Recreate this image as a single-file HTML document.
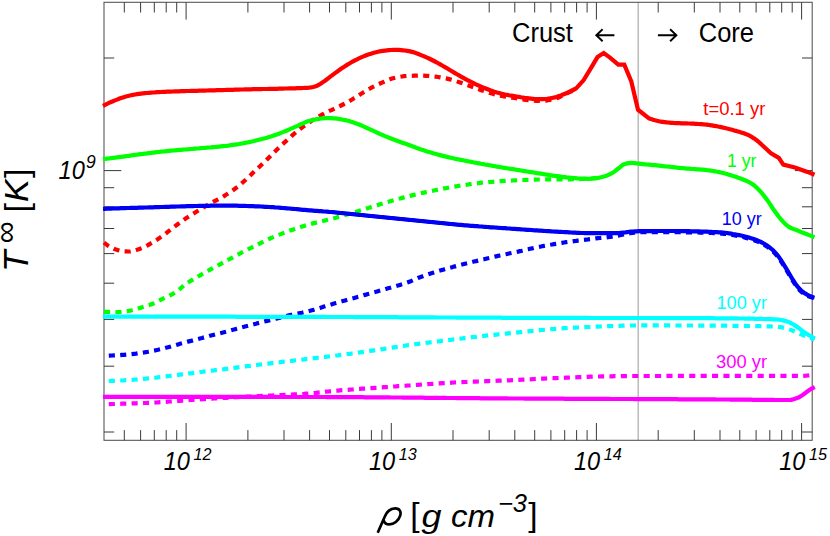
<!DOCTYPE html>
<html><head><meta charset="utf-8"><title>Cooling curves</title>
<style>html,body{margin:0;padding:0;background:#fff;width:830px;height:536px;overflow:hidden;font-family:"Liberation Sans",sans-serif}</style>
</head><body>
<svg width="830" height="536" viewBox="0 0 830 536" style="display:block;position:absolute;left:0;top:0">
<rect x="0" y="0" width="830" height="536" fill="#fff"/>
<line x1="638.2" y1="2.3" x2="638.2" y2="440.3" stroke="#b0b0b0" stroke-width="1.3"/>
<rect x="104.0" y="2.3" width="708.2" height="438.0" fill="none" stroke="#505050" stroke-width="1.05"/>
<path d="M124.3 440.3v-10.2M124.3 2.3v10.2M140.6 440.3v-10.2M140.6 2.3v10.2M154.3 440.3v-10.2M154.3 2.3v10.2M166.2 440.3v-10.2M166.2 2.3v10.2M176.7 440.3v-10.2M176.7 2.3v10.2M186.1 440.3v-17.3M186.1 2.3v17.3M247.9 440.3v-10.2M247.9 2.3v10.2M284.0 440.3v-10.2M284.0 2.3v10.2M309.6 440.3v-10.2M309.6 2.3v10.2M329.5 440.3v-10.2M329.5 2.3v10.2M345.8 440.3v-10.2M345.8 2.3v10.2M359.5 440.3v-10.2M359.5 2.3v10.2M371.4 440.3v-10.2M371.4 2.3v10.2M381.9 440.3v-10.2M381.9 2.3v10.2M391.3 440.3v-17.3M391.3 2.3v17.3M453.0 440.3v-10.2M453.0 2.3v10.2M489.2 440.3v-10.2M489.2 2.3v10.2M514.8 440.3v-10.2M514.8 2.3v10.2M534.7 440.3v-10.2M534.7 2.3v10.2M550.9 440.3v-10.2M550.9 2.3v10.2M564.7 440.3v-10.2M564.7 2.3v10.2M576.6 440.3v-10.2M576.6 2.3v10.2M587.1 440.3v-10.2M587.1 2.3v10.2M596.4 440.3v-17.3M596.4 2.3v17.3M658.2 440.3v-10.2M658.2 2.3v10.2M694.3 440.3v-10.2M694.3 2.3v10.2M720.0 440.3v-10.2M720.0 2.3v10.2M739.8 440.3v-10.2M739.8 2.3v10.2M756.1 440.3v-10.2M756.1 2.3v10.2M769.8 440.3v-10.2M769.8 2.3v10.2M781.7 440.3v-10.2M781.7 2.3v10.2M792.2 440.3v-10.2M792.2 2.3v10.2M801.6 440.3v-17.3M801.6 2.3v17.3M104.0 432.0h10.2M812.2 432.0h-10.2M104.0 366.2h10.2M812.2 366.2h-10.2M104.0 319.4h10.2M812.2 319.4h-10.2M104.0 283.2h10.2M812.2 283.2h-10.2M104.0 253.6h10.2M812.2 253.6h-10.2M104.0 228.5h10.2M812.2 228.5h-10.2M104.0 206.8h10.2M812.2 206.8h-10.2M104.0 187.7h10.2M812.2 187.7h-10.2M104.0 170.6h17.3M812.2 170.6h-17.3M104.0 58.0h10.2M812.2 58.0h-10.2" stroke="#3a3a3a" stroke-width="1" fill="none"/>
<g><path d="M104.0 242.6L106.0 244.2L108.0 245.7L110.0 246.9L112.0 247.9L114.0 248.8L116.0 249.6L118.0 250.2L120.0 250.8L122.0 251.2L124.0 251.3L126.0 251.4L128.0 251.5L130.0 251.5L132.0 251.1L134.0 250.7L136.0 250.1L138.0 249.5L140.0 248.8L142.0 248.0L144.0 247.1L146.0 246.1L148.0 245.1L150.0 243.9L152.0 242.8L154.0 241.6L156.0 240.3L158.0 239.0L160.0 237.6L162.0 236.2L164.0 234.8L166.0 233.3L168.0 231.7L170.0 230.1L172.0 228.5L174.0 227.0L176.0 225.5L178.0 224.0L180.0 222.5L182.0 221.1L184.0 219.7L186.0 218.3L188.0 217.0L190.0 215.7L192.0 214.4L194.0 213.2L196.0 212.0L198.0 210.8L200.0 209.6L202.0 208.4L204.0 207.1L206.0 205.9L208.0 204.7L210.0 203.5L212.0 202.4L214.0 201.4L216.0 200.5L218.0 199.5L220.0 198.4L222.0 197.3L224.0 196.1L226.0 194.8L228.0 193.6L230.0 192.2L232.0 190.9L234.0 189.5L236.0 188.0L238.0 186.5L240.0 184.9L242.0 183.1L244.0 181.3L246.0 179.5L248.0 177.6L250.0 175.7L252.0 173.7L254.0 171.8L256.0 169.9L258.0 168.0L260.0 166.2L262.0 164.3L264.0 162.4L266.0 160.4L268.0 158.4L270.0 156.4L272.0 154.4L274.0 152.4L276.0 150.5L278.0 148.5L280.0 146.6L282.0 144.7L284.0 142.9L286.0 141.1L288.0 139.3L290.0 137.5L292.0 135.6L294.0 133.9L296.0 132.2L298.0 130.5L300.0 129.0L302.0 127.5L304.0 126.1L306.0 124.7L308.0 123.3L310.0 121.9L312.0 120.6L314.0 119.3L316.0 118.1L318.0 116.9L320.0 115.8L322.0 114.7L324.0 113.7L326.0 112.6L328.0 111.7L330.0 110.7L332.0 109.8L334.0 108.8L336.0 107.8L338.0 106.9L340.0 106.0L342.0 105.0L344.0 104.0L346.0 103.0L348.0 101.9L350.0 100.7L352.0 99.5L354.0 98.2L356.0 97.0L358.0 95.8L360.0 94.5L362.0 93.3L364.0 92.0L366.0 90.8L368.0 89.6L370.0 88.5L372.0 87.4L374.0 86.4L376.0 85.4L378.0 84.4L380.0 83.5L382.0 82.6L384.0 81.8L386.0 80.9L388.0 80.1L390.0 79.3L392.0 78.6L394.0 78.0L396.0 77.5L398.0 77.2L400.0 76.8L402.0 76.5L404.0 76.2L406.0 76.0L408.0 75.9L410.0 75.8L412.0 75.8L414.0 75.7L416.0 75.7L418.0 75.6L420.0 75.6L422.0 75.6L424.0 75.7L426.0 75.8L428.0 75.9L430.0 76.1L432.0 76.3L434.0 76.5L436.0 76.7L438.0 77.0L440.0 77.3L442.0 77.7L444.0 78.0L446.0 78.4L448.0 78.9L450.0 79.4L452.0 79.9L454.0 80.5L456.0 81.1L458.0 81.8L460.0 82.4L462.0 83.1L464.0 83.8L466.0 84.6L468.0 85.3L470.0 86.1L472.0 86.8L474.0 87.5L476.0 88.3L478.0 89.0L480.0 89.7L482.0 90.4L484.0 91.1L486.0 91.8L488.0 92.4L490.0 93.0L492.0 93.6L494.0 94.2L496.0 94.7L498.0 95.2L500.0 95.6L502.0 96.0L504.0 96.4L506.0 96.8L508.0 97.1L510.0 97.4L512.0 97.7L514.0 97.9L516.0 98.2L518.0 98.5L520.0 98.9L522.0 99.2L524.0 99.6L526.0 99.9L528.0 100.2L530.0 100.3L532.0 100.5L534.0 100.6L536.0 100.8L538.0 100.8L540.0 100.9L542.0 100.9L544.0 100.8L546.0 100.6L548.0 100.3L550.0 99.9L552.0 99.5L554.0 99.1L556.0 98.5L558.0 97.7L560.0 96.8L562.0 95.8L564.0 94.8L566.0 93.8L568.0 92.9L570.0 91.9L572.0 91.0L574.0 89.9L576.0 88.9L576.2 88.8" fill="none" stroke="#ff0000" stroke-width="4.2" stroke-linejoin="miter" stroke-dasharray="6.1 5.3" stroke-dashoffset="0"/>
<path d="M103.0 105.8L105.0 104.8L107.0 103.8L109.0 102.9L111.0 102.0L113.0 101.2L115.0 100.4L117.0 99.6L119.0 98.8L121.0 98.1L123.0 97.4L125.0 96.8L127.0 96.3L129.0 95.8L131.0 95.3L133.0 94.9L135.0 94.5L137.0 94.2L139.0 93.9L141.0 93.6L143.0 93.4L145.0 93.2L147.0 93.0L149.0 92.8L151.0 92.6L153.0 92.5L155.0 92.4L157.0 92.2L159.0 92.1L161.0 92.0L163.0 91.9L165.0 91.8L167.0 91.7L169.0 91.6L171.0 91.6L173.0 91.5L175.0 91.4L177.0 91.3L179.0 91.3L181.0 91.2L183.0 91.1L185.0 91.1L187.0 91.0L189.0 91.0L191.0 90.9L193.0 90.9L195.0 90.8L197.0 90.8L199.0 90.7L201.0 90.7L203.0 90.6L205.0 90.6L207.0 90.5L209.0 90.4L211.0 90.4L213.0 90.3L215.0 90.3L217.0 90.2L219.0 90.2L221.0 90.1L223.0 90.1L225.0 90.0L227.0 89.9L229.0 89.9L231.0 89.8L233.0 89.8L235.0 89.7L237.0 89.7L239.0 89.6L241.0 89.5L243.0 89.5L245.0 89.4L247.0 89.4L249.0 89.3L251.0 89.3L253.0 89.2L255.0 89.2L257.0 89.2L259.0 89.1L261.0 89.1L263.0 89.0L265.0 89.0L267.0 89.0L269.0 88.9L271.0 88.9L273.0 88.8L275.0 88.8L277.0 88.8L279.0 88.7L281.0 88.7L283.0 88.6L285.0 88.5L287.0 88.5L289.0 88.4L291.0 88.4L293.0 88.3L295.0 88.3L297.0 88.2L299.0 88.1L301.0 88.1L303.0 88.0L305.0 87.9L307.0 87.9L309.0 87.7L311.0 87.4L313.0 87.0L315.0 86.5L317.0 85.8L319.0 84.7L321.0 83.4L323.0 82.1L325.0 80.7L327.0 79.2L329.0 77.7L331.0 76.1L333.0 74.6L335.0 73.1L337.0 71.7L339.0 70.3L341.0 68.8L343.0 67.5L345.0 66.2L347.0 64.9L349.0 63.7L351.0 62.5L353.0 61.4L355.0 60.3L357.0 59.3L359.0 58.3L361.0 57.4L363.0 56.6L365.0 55.8L367.0 55.0L369.0 54.3L371.0 53.7L373.0 53.1L375.0 52.5L377.0 52.0L379.0 51.5L381.0 51.1L383.0 50.8L385.0 50.6L387.0 50.4L389.0 50.2L391.0 50.0L393.0 49.9L395.0 49.8L397.0 49.8L399.0 49.9L401.0 50.1L403.0 50.3L405.0 50.5L407.0 50.8L409.0 51.1L411.0 51.6L413.0 52.1L415.0 52.8L417.0 53.5L419.0 54.3L421.0 55.1L423.0 55.9L425.0 56.7L427.0 57.6L429.0 58.5L431.0 59.5L433.0 60.5L435.0 61.5L437.0 62.5L439.0 63.7L441.0 64.8L443.0 66.0L445.0 67.1L447.0 68.3L449.0 69.5L451.0 70.7L453.0 71.9L455.0 73.1L457.0 74.3L459.0 75.4L461.0 76.6L463.0 77.7L465.0 78.8L467.0 79.9L469.0 80.9L471.0 81.9L473.0 82.9L475.0 83.9L477.0 84.8L479.0 85.7L481.0 86.6L483.0 87.4L485.0 88.2L487.0 89.0L489.0 89.8L491.0 90.6L493.0 91.3L495.0 91.9L497.0 92.5L499.0 93.0L501.0 93.6L503.0 94.0L505.0 94.5L507.0 94.9L509.0 95.3L511.0 95.6L513.0 95.9L515.0 96.2L517.0 96.6L519.0 96.9L521.0 97.3L523.0 97.6L525.0 98.0L527.0 98.2L529.0 98.4L531.0 98.6L533.0 98.8L535.0 99.0L537.0 99.1L539.0 99.2L541.0 99.2L543.0 99.1L545.0 99.0L547.0 98.8L549.0 98.5L551.0 98.2L553.0 97.8L555.0 97.4L557.0 96.8L559.0 96.1L561.0 95.4L563.0 94.5L565.0 93.7L567.0 92.8L569.0 91.9L571.0 91.0L573.0 90.0L575.0 89.0L576.2 88.4L583.7 80.1L591.2 67.6L597.5 57.1L603.7 53.1L610.0 57.6L618.3 64.6L624.3 64.6L631.3 81.4L638.0 109.7L649.0 118.3L650.0 118.7L651.0 119.0L652.0 119.3L653.0 119.7L654.0 120.0L655.0 120.3L656.0 120.5L657.0 120.8L658.0 121.0L659.0 121.3L660.0 121.5L661.0 121.6L662.0 121.8L663.0 121.9L664.0 122.1L665.0 122.2L666.0 122.3L667.0 122.4L668.0 122.5L669.0 122.6L670.0 122.7L671.0 122.8L672.0 122.9L673.0 122.9L674.0 123.0L675.0 123.1L676.0 123.1L677.0 123.1L678.0 123.2L679.0 123.2L680.0 123.2L681.0 123.3L682.0 123.3L683.0 123.3L684.0 123.4L685.0 123.4L686.0 123.4L687.0 123.4L688.0 123.5L689.0 123.5L690.0 123.5L691.0 123.6L692.0 123.6L693.0 123.7L694.0 123.7L695.0 123.8L696.0 123.8L697.0 123.9L698.0 124.0L699.0 124.0L700.0 124.1L701.0 124.2L702.0 124.2L703.0 124.3L704.0 124.4L705.0 124.5L706.0 124.6L707.0 124.7L708.0 124.8L709.0 125.0L710.0 125.1L711.0 125.3L712.0 125.4L713.0 125.6L714.0 125.8L715.0 125.9L716.0 126.1L717.0 126.3L718.0 126.5L719.0 126.7L720.0 126.9L721.0 127.1L722.0 127.3L723.0 127.6L724.0 127.8L725.0 128.0L726.0 128.3L727.0 128.5L728.0 128.8L729.0 129.0L730.0 129.3L731.0 129.5L732.0 129.8L733.0 130.1L734.0 130.4L735.0 130.7L736.0 130.9L737.0 131.2L738.0 131.5L739.0 131.8L740.0 132.1L741.0 132.4L742.0 132.7L743.0 133.0L744.0 133.3L745.0 133.7L746.0 134.1L747.0 134.5L748.0 134.9L749.0 135.4L750.0 135.9L751.0 136.5L752.0 137.1L753.0 137.7L754.0 138.4L755.0 139.0L756.0 139.8L757.0 140.5L758.0 141.3L759.0 142.2L760.0 143.1L761.0 144.0L762.0 145.0L762.3 145.3L771.0 153.2L778.8 157.9L783.3 164.6L794.9 167.4L807.5 171.9L814.5 174.8" fill="none" stroke="#ff0000" stroke-width="4.2" stroke-linejoin="miter"/>
<path d="M104.0 311.6L106.0 311.8L108.0 311.9L110.0 312.0L112.0 312.0L114.0 312.1L116.0 312.1L118.0 312.1L120.0 312.0L122.0 311.8L124.0 311.6L126.0 311.3L128.0 311.0L130.0 310.6L132.0 310.2L134.0 309.7L136.0 309.1L138.0 308.5L140.0 307.9L142.0 307.3L144.0 306.7L146.0 306.1L148.0 305.4L150.0 304.8L152.0 304.0L154.0 303.2L156.0 302.3L158.0 301.2L160.0 300.2L162.0 299.2L164.0 298.2L166.0 297.2L168.0 296.3L170.0 295.3L172.0 294.3L174.0 293.2L176.0 292.0L178.0 290.5L180.0 288.8L182.0 287.0L184.0 285.4L186.0 283.9L188.0 282.6L190.0 281.3L192.0 280.1L194.0 278.9L196.0 277.7L198.0 276.5L200.0 275.4L202.0 274.2L204.0 273.1L206.0 271.9L208.0 270.8L210.0 269.7L212.0 268.6L214.0 267.5L216.0 266.4L218.0 265.3L220.0 264.3L222.0 263.2L224.0 262.1L226.0 261.0L228.0 259.9L230.0 258.9L232.0 257.8L234.0 256.7L236.0 255.6L238.0 254.5L240.0 253.5L242.0 252.4L244.0 251.4L246.0 250.3L248.0 249.3L250.0 248.3L252.0 247.3L254.0 246.3L256.0 245.3L258.0 244.3L260.0 243.3L262.0 242.3L264.0 241.3L266.0 240.4L268.0 239.4L270.0 238.5L272.0 237.6L274.0 236.8L276.0 236.0L278.0 235.1L280.0 234.4L282.0 233.6L284.0 232.8L286.0 232.0L288.0 231.3L290.0 230.6L292.0 229.9L294.0 229.2L296.0 228.5L298.0 227.8L300.0 227.2L302.0 226.5L304.0 225.9L306.0 225.3L308.0 224.7L310.0 224.1L312.0 223.6L314.0 223.1L316.0 222.6L318.0 222.1L320.0 221.6L322.0 221.2L324.0 220.7L326.0 220.2L328.0 219.8L330.0 219.3L332.0 218.8L334.0 218.2L336.0 217.7L338.0 217.1L340.0 216.6L342.0 216.0L344.0 215.4L346.0 214.8L348.0 214.2L350.0 213.6L352.0 213.0L354.0 212.4L356.0 211.8L358.0 211.2L360.0 210.6L362.0 210.0L364.0 209.4L366.0 208.7L368.0 208.1L370.0 207.4L372.0 206.8L374.0 206.2L376.0 205.5L378.0 204.9L380.0 204.3L382.0 203.7L384.0 203.1L386.0 202.5L388.0 201.9L390.0 201.3L392.0 200.7L394.0 200.2L396.0 199.6L398.0 199.0L400.0 198.5L402.0 197.9L404.0 197.4L406.0 196.9L408.0 196.4L410.0 195.9L412.0 195.4L414.0 194.9L416.0 194.4L418.0 194.0L420.0 193.5L422.0 193.0L424.0 192.6L426.0 192.1L428.0 191.7L430.0 191.3L432.0 190.9L434.0 190.5L436.0 190.0L438.0 189.6L440.0 189.2L442.0 188.8L444.0 188.4L446.0 188.1L448.0 187.7L450.0 187.3L452.0 187.0L454.0 186.6L456.0 186.3L458.0 186.0L460.0 185.7L462.0 185.3L464.0 185.0L466.0 184.8L468.0 184.5L470.0 184.2L472.0 183.9L474.0 183.6L476.0 183.4L478.0 183.2L480.0 182.9L482.0 182.7L484.0 182.5L486.0 182.4L488.0 182.2L490.0 182.0L492.0 181.8L494.0 181.7L496.0 181.5L498.0 181.4L500.0 181.2L502.0 181.1L504.0 181.0L506.0 180.8L508.0 180.7L510.0 180.6L512.0 180.5L514.0 180.4L516.0 180.3L518.0 180.2L520.0 180.1L522.0 180.0L524.0 180.0L526.0 179.9L528.0 179.8L530.0 179.8L532.0 179.7L534.0 179.6L536.0 179.6L538.0 179.5L540.0 179.5L542.0 179.5L544.0 179.5L546.0 179.4L548.0 179.4L550.0 179.4L552.0 179.4L554.0 179.4L556.0 179.4L558.0 179.4L560.0 179.4L562.0 179.3L564.0 179.3L566.0 179.3L568.0 179.3L570.0 179.3L572.0 179.2L574.0 179.2L576.0 179.2L578.0 179.1L580.0 179.1L582.0 179.0L584.0 179.0L586.0 178.9L588.0 178.8L590.0 178.7L592.0 178.5L594.0 178.2L596.0 177.9L598.0 177.5L600.0 177.1L601.2 176.8" fill="none" stroke="#00ff00" stroke-width="4.2" stroke-linejoin="miter" stroke-dasharray="6.1 5.3" stroke-dashoffset="0"/>
<path d="M103.0 159.3L105.0 159.0L107.0 158.7L109.0 158.5L111.0 158.2L113.0 157.9L115.0 157.7L117.0 157.4L119.0 157.1L121.0 156.8L123.0 156.6L125.0 156.3L127.0 156.0L129.0 155.8L131.0 155.5L133.0 155.2L135.0 154.9L137.0 154.7L139.0 154.4L141.0 154.1L143.0 153.9L145.0 153.6L147.0 153.4L149.0 153.1L151.0 152.9L153.0 152.6L155.0 152.4L157.0 152.2L159.0 152.0L161.0 151.7L163.0 151.5L165.0 151.3L167.0 151.1L169.0 150.9L171.0 150.7L173.0 150.5L175.0 150.3L177.0 150.1L179.0 149.9L181.0 149.8L183.0 149.6L185.0 149.5L187.0 149.3L189.0 149.2L191.0 149.0L193.0 148.9L195.0 148.7L197.0 148.5L199.0 148.4L201.0 148.2L203.0 148.0L205.0 147.9L207.0 147.7L209.0 147.5L211.0 147.4L213.0 147.2L215.0 147.0L217.0 146.8L219.0 146.6L221.0 146.4L223.0 146.2L225.0 146.0L227.0 145.8L229.0 145.5L231.0 145.2L233.0 144.9L235.0 144.6L237.0 144.3L239.0 144.0L241.0 143.6L243.0 143.3L245.0 142.9L247.0 142.5L249.0 142.1L251.0 141.7L253.0 141.3L255.0 140.8L257.0 140.3L259.0 139.8L261.0 139.3L263.0 138.8L265.0 138.3L267.0 137.7L269.0 137.1L271.0 136.5L273.0 135.8L275.0 135.1L277.0 134.4L279.0 133.7L281.0 132.9L283.0 132.1L285.0 131.3L287.0 130.5L289.0 129.6L291.0 128.7L293.0 127.8L295.0 126.9L297.0 126.1L299.0 125.2L301.0 124.2L303.0 123.3L305.0 122.4L307.0 121.6L309.0 121.0L311.0 120.5L313.0 120.0L315.0 119.5L317.0 119.1L319.0 118.8L321.0 118.5L323.0 118.3L325.0 118.2L327.0 118.1L329.0 118.1L331.0 118.2L333.0 118.3L335.0 118.4L337.0 118.7L339.0 119.0L341.0 119.3L343.0 119.7L345.0 120.1L347.0 120.5L349.0 121.0L351.0 121.7L353.0 122.3L355.0 123.1L357.0 123.8L359.0 124.5L361.0 125.3L363.0 126.2L365.0 127.1L367.0 128.0L369.0 128.9L371.0 129.8L373.0 130.7L375.0 131.6L377.0 132.6L379.0 133.5L381.0 134.4L383.0 135.2L385.0 136.1L387.0 136.9L389.0 137.7L391.0 138.5L393.0 139.3L395.0 140.0L397.0 140.8L399.0 141.5L401.0 142.2L403.0 142.9L405.0 143.6L407.0 144.3L409.0 145.1L411.0 145.8L413.0 146.5L415.0 147.2L417.0 148.0L419.0 148.7L421.0 149.4L423.0 150.0L425.0 150.7L427.0 151.4L429.0 152.0L431.0 152.6L433.0 153.2L435.0 153.8L437.0 154.3L439.0 154.9L441.0 155.4L443.0 155.9L445.0 156.4L447.0 156.9L449.0 157.4L451.0 157.8L453.0 158.2L455.0 158.7L457.0 159.1L459.0 159.5L461.0 159.9L463.0 160.3L465.0 160.7L467.0 161.1L469.0 161.5L471.0 161.9L473.0 162.3L475.0 162.7L477.0 163.0L479.0 163.4L481.0 163.8L483.0 164.1L485.0 164.5L487.0 164.8L489.0 165.2L491.0 165.5L493.0 165.9L495.0 166.2L497.0 166.6L499.0 166.9L501.0 167.2L503.0 167.6L505.0 167.9L507.0 168.2L509.0 168.6L511.0 168.9L513.0 169.2L515.0 169.5L517.0 169.9L519.0 170.2L521.0 170.5L523.0 170.8L525.0 171.2L527.0 171.5L529.0 171.8L531.0 172.1L533.0 172.4L535.0 172.7L537.0 173.1L539.0 173.4L541.0 173.7L543.0 174.0L545.0 174.3L547.0 174.7L549.0 175.0L551.0 175.3L553.0 175.6L555.0 175.8L557.0 176.1L559.0 176.4L561.0 176.7L563.0 177.0L565.0 177.2L567.0 177.5L569.0 177.7L571.0 177.9L573.0 178.1L575.0 178.2L577.0 178.3L579.0 178.5L581.0 178.6L583.0 178.7L585.0 178.7L587.0 178.8L589.0 178.8L591.0 178.7L593.0 178.5L595.0 178.3L597.0 178.1L599.0 177.7L601.0 177.3L603.0 176.8L605.0 176.2L607.0 175.5L609.0 174.7L611.0 173.7L613.0 172.6L615.0 171.1L617.0 169.5L619.0 168.0L621.0 166.3L623.0 164.7L625.0 163.9L627.0 163.4L629.0 163.1L631.0 162.9L633.0 163.0L635.0 163.2L637.0 163.5L639.0 163.7L641.0 163.9L643.0 164.1L645.0 164.3L647.0 164.5L649.0 164.7L651.0 164.9L653.0 165.1L655.0 165.2L657.0 165.4L659.0 165.6L661.0 165.8L663.0 166.1L665.0 166.3L667.0 166.5L669.0 166.7L671.0 167.0L673.0 167.2L675.0 167.4L677.0 167.6L679.0 167.8L681.0 168.1L683.0 168.2L685.0 168.4L687.0 168.6L689.0 168.7L691.0 168.9L693.0 169.0L695.0 169.1L697.0 169.3L699.0 169.4L701.0 169.6L703.0 169.7L705.0 169.9L707.0 170.2L709.0 170.4L711.0 170.7L713.0 171.0L715.0 171.3L717.0 171.7L719.0 172.1L721.0 172.5L723.0 173.0L725.0 173.5L727.0 174.1L729.0 174.7L731.0 175.3L733.0 175.9L735.0 176.5L737.0 177.2L739.0 177.9L741.0 178.7L743.0 179.5L745.0 180.3L747.0 181.2L749.0 182.1L751.0 183.2L753.0 184.5L755.0 186.1L757.0 187.9L759.0 190.0L761.0 192.1L763.0 194.5L765.0 197.1L767.0 199.8L769.0 202.6L771.0 205.6L773.0 208.7L775.0 211.5L777.0 214.3L779.0 217.0L781.0 219.4L783.0 221.6L785.0 223.7L787.0 225.5L789.0 227.0L791.0 228.0L793.0 228.9L795.0 229.6L797.0 230.3L799.0 231.1L801.0 232.0L803.0 232.8L805.0 233.5L807.0 234.3L809.0 235.1L811.0 235.9L813.0 236.6L814.5 237.2" fill="none" stroke="#00ff00" stroke-width="4.2" stroke-linejoin="miter"/>
<path d="M104.0 355.9L106.0 355.8L108.0 355.7L110.0 355.6L112.0 355.5L114.0 355.4L116.0 355.3L118.0 355.2L120.0 355.1L122.0 354.9L124.0 354.8L126.0 354.6L128.0 354.4L130.0 354.3L132.0 354.1L134.0 353.8L136.0 353.6L138.0 353.3L140.0 353.1L142.0 352.8L144.0 352.5L146.0 352.1L148.0 351.8L150.0 351.4L152.0 351.0L154.0 350.6L156.0 350.2L158.0 349.8L160.0 349.3L162.0 348.9L164.0 348.4L166.0 347.8L168.0 347.3L170.0 346.7L172.0 346.1L174.0 345.5L176.0 345.0L178.0 344.4L180.0 343.8L182.0 343.3L184.0 342.7L186.0 342.2L188.0 341.6L190.0 341.1L192.0 340.6L194.0 340.0L196.0 339.5L198.0 339.0L200.0 338.5L202.0 338.0L204.0 337.4L206.0 336.9L208.0 336.4L210.0 335.8L212.0 335.3L214.0 334.8L216.0 334.3L218.0 333.8L220.0 333.3L222.0 332.8L224.0 332.2L226.0 331.7L228.0 331.2L230.0 330.6L232.0 330.0L234.0 329.5L236.0 328.9L238.0 328.3L240.0 327.8L242.0 327.3L244.0 326.8L246.0 326.2L248.0 325.7L250.0 325.2L252.0 324.7L254.0 324.2L256.0 323.7L258.0 323.1L260.0 322.6L262.0 322.1L264.0 321.6L266.0 321.1L268.0 320.6L270.0 320.1L272.0 319.6L274.0 319.1L276.0 318.6L278.0 318.1L280.0 317.6L282.0 317.1L284.0 316.6L286.0 316.1L288.0 315.6L290.0 315.1L292.0 314.7L294.0 314.3L296.0 313.9L298.0 313.5L300.0 313.1L302.0 312.7L304.0 312.2L306.0 311.8L308.0 311.3L310.0 310.8L312.0 310.2L314.0 309.7L316.0 309.1L318.0 308.5L320.0 307.9L322.0 307.3L324.0 306.6L326.0 306.0L328.0 305.4L330.0 304.8L332.0 304.2L334.0 303.6L336.0 303.0L338.0 302.5L340.0 301.9L342.0 301.3L344.0 300.8L346.0 300.2L348.0 299.6L350.0 299.1L352.0 298.5L354.0 298.0L356.0 297.4L358.0 296.8L360.0 296.3L362.0 295.7L364.0 295.1L366.0 294.6L368.0 294.0L370.0 293.5L372.0 292.9L374.0 292.3L376.0 291.8L378.0 291.2L380.0 290.6L382.0 290.0L384.0 289.5L386.0 288.9L388.0 288.3L390.0 287.8L392.0 287.2L394.0 286.7L396.0 286.1L398.0 285.5L400.0 284.9L402.0 284.3L404.0 283.7L406.0 283.0L408.0 282.3L410.0 281.6L412.0 280.7L414.0 279.8L416.0 278.9L418.0 278.0L420.0 277.2L422.0 276.5L424.0 275.7L426.0 275.0L428.0 274.4L430.0 273.7L432.0 273.1L434.0 272.4L436.0 271.8L438.0 271.2L440.0 270.6L442.0 270.0L444.0 269.4L446.0 268.8L448.0 268.3L450.0 267.7L452.0 267.2L454.0 266.6L456.0 266.1L458.0 265.6L460.0 265.0L462.0 264.5L464.0 264.0L466.0 263.5L468.0 263.0L470.0 262.5L472.0 262.0L474.0 261.5L476.0 261.1L478.0 260.6L480.0 260.1L482.0 259.6L484.0 259.2L486.0 258.7L488.0 258.2L490.0 257.8L492.0 257.3L494.0 256.9L496.0 256.4L498.0 255.9L500.0 255.5L502.0 255.1L504.0 254.6L506.0 254.2L508.0 253.7L510.0 253.3L512.0 252.9L514.0 252.4L516.0 252.0L518.0 251.6L520.0 251.1L522.0 250.7L524.0 250.2L526.0 249.7L528.0 249.3L530.0 248.8L532.0 248.4L534.0 247.9L536.0 247.5L538.0 247.1L540.0 246.7L542.0 246.3L544.0 245.9L546.0 245.6L548.0 245.2L550.0 244.8L552.0 244.5L554.0 244.1L556.0 243.8L558.0 243.5L560.0 243.1L562.0 242.8L564.0 242.5L566.0 242.2L568.0 241.9L570.0 241.6L572.0 241.4L574.0 241.1L576.0 240.9L578.0 240.6L580.0 240.4L582.0 240.1L584.0 239.9L586.0 239.6L588.0 239.4L590.0 239.1L592.0 238.9L594.0 238.7L596.0 238.4L598.0 238.2L600.0 238.0L602.0 237.8L604.0 237.6L606.0 237.4L608.0 237.1L610.0 236.9L612.0 236.6L614.0 236.3L616.0 236.0L618.0 235.7L620.0 235.3L622.0 234.8L624.0 234.3L626.0 233.9L628.0 233.5L630.0 233.2L632.0 233.0L634.0 232.7L636.0 232.5L638.0 232.3L640.0 232.2L642.0 232.2L644.0 232.2L646.0 232.2L648.0 232.2L650.0 232.1L652.0 232.1L654.0 232.1L656.0 232.1L658.0 232.1L660.0 232.1L662.0 232.1L664.0 232.1L666.0 232.1L668.0 232.1L670.0 232.1L672.0 232.1L674.0 232.1L676.0 232.1L678.0 232.1L680.0 232.2L682.0 232.2L684.0 232.2L686.0 232.3L688.0 232.3L690.0 232.3L692.0 232.4L694.0 232.4L696.0 232.5L698.0 232.5L700.0 232.6L702.0 232.6L704.0 232.7L706.0 232.8L708.0 232.8L710.0 232.9L712.0 233.0L714.0 233.1L716.0 233.2L718.0 233.3L720.0 233.4L722.0 233.6L724.0 233.8L726.0 234.0L728.0 234.3L730.0 234.6L732.0 234.9L734.0 235.3L736.0 235.6L738.0 236.0L740.0 236.4L742.0 236.9L744.0 237.3L746.0 237.9L748.0 238.4L750.0 239.0L752.0 239.6L754.0 240.2L756.0 240.9L758.0 241.7L760.0 242.6L762.0 243.6L764.0 244.7L766.0 245.9L768.0 247.3L770.0 248.8L772.0 250.5L774.0 252.4L776.0 254.6L778.0 256.9L780.0 259.7L782.0 262.8L784.0 266.1L786.0 269.3L788.0 272.7L790.0 276.1L792.0 279.5L794.0 282.7L796.0 285.7L798.0 288.3L800.0 290.5L802.0 292.3L804.0 293.7L806.0 295.0L808.0 296.0L810.0 296.8L812.0 297.6L814.0 298.2L814.5 298.3" fill="none" stroke="#0000f4" stroke-width="4.2" stroke-linejoin="miter" stroke-dasharray="6.1 5.3" stroke-dashoffset="6.6"/>
<path d="M103.0 208.9L105.0 208.8L107.0 208.7L109.0 208.7L111.0 208.6L113.0 208.5L115.0 208.4L117.0 208.4L119.0 208.3L121.0 208.2L123.0 208.2L125.0 208.1L127.0 208.0L129.0 208.0L131.0 207.9L133.0 207.9L135.0 207.8L137.0 207.8L139.0 207.7L141.0 207.7L143.0 207.6L145.0 207.5L147.0 207.5L149.0 207.4L151.0 207.4L153.0 207.3L155.0 207.2L157.0 207.2L159.0 207.1L161.0 207.0L163.0 207.0L165.0 206.9L167.0 206.9L169.0 206.8L171.0 206.7L173.0 206.7L175.0 206.6L177.0 206.5L179.0 206.5L181.0 206.4L183.0 206.3L185.0 206.3L187.0 206.2L189.0 206.2L191.0 206.1L193.0 206.1L195.0 206.0L197.0 206.0L199.0 205.9L201.0 205.9L203.0 205.8L205.0 205.8L207.0 205.8L209.0 205.8L211.0 205.7L213.0 205.7L215.0 205.7L217.0 205.6L219.0 205.6L221.0 205.6L223.0 205.6L225.0 205.6L227.0 205.6L229.0 205.6L231.0 205.6L233.0 205.7L235.0 205.7L237.0 205.7L239.0 205.8L241.0 205.8L243.0 205.9L245.0 205.9L247.0 206.0L249.0 206.1L251.0 206.1L253.0 206.2L255.0 206.3L257.0 206.3L259.0 206.4L261.0 206.5L263.0 206.6L265.0 206.8L267.0 206.9L269.0 207.0L271.0 207.1L273.0 207.2L275.0 207.4L277.0 207.5L279.0 207.6L281.0 207.8L283.0 208.0L285.0 208.1L287.0 208.3L289.0 208.5L291.0 208.7L293.0 208.8L295.0 209.0L297.0 209.2L299.0 209.4L301.0 209.6L303.0 209.8L305.0 209.9L307.0 210.1L309.0 210.3L311.0 210.4L313.0 210.6L315.0 210.8L317.0 210.9L319.0 211.1L321.0 211.2L323.0 211.4L325.0 211.5L327.0 211.7L329.0 211.9L331.0 212.0L333.0 212.2L335.0 212.4L337.0 212.6L339.0 212.8L341.0 213.0L343.0 213.2L345.0 213.4L347.0 213.6L349.0 213.8L351.0 214.0L353.0 214.2L355.0 214.4L357.0 214.6L359.0 214.8L361.0 215.0L363.0 215.2L365.0 215.4L367.0 215.6L369.0 215.8L371.0 216.0L373.0 216.2L375.0 216.4L377.0 216.6L379.0 216.8L381.0 217.0L383.0 217.2L385.0 217.4L387.0 217.6L389.0 217.8L391.0 218.0L393.0 218.2L395.0 218.4L397.0 218.6L399.0 218.8L401.0 219.0L403.0 219.2L405.0 219.4L407.0 219.6L409.0 219.8L411.0 220.0L413.0 220.2L415.0 220.4L417.0 220.6L419.0 220.8L421.0 221.0L423.0 221.2L425.0 221.4L427.0 221.6L429.0 221.8L431.0 222.0L433.0 222.2L435.0 222.4L437.0 222.6L439.0 222.8L441.0 223.0L443.0 223.2L445.0 223.4L447.0 223.6L449.0 223.8L451.0 224.0L453.0 224.2L455.0 224.4L457.0 224.6L459.0 224.8L461.0 224.9L463.0 225.1L465.0 225.3L467.0 225.4L469.0 225.6L471.0 225.8L473.0 225.9L475.0 226.1L477.0 226.2L479.0 226.4L481.0 226.5L483.0 226.7L485.0 226.8L487.0 227.0L489.0 227.1L491.0 227.3L493.0 227.4L495.0 227.5L497.0 227.7L499.0 227.8L501.0 228.0L503.0 228.1L505.0 228.2L507.0 228.4L509.0 228.5L511.0 228.7L513.0 228.8L515.0 228.9L517.0 229.1L519.0 229.2L521.0 229.3L523.0 229.5L525.0 229.6L527.0 229.8L529.0 229.9L531.0 230.0L533.0 230.2L535.0 230.3L537.0 230.4L539.0 230.6L541.0 230.7L543.0 230.8L545.0 231.0L547.0 231.1L549.0 231.2L551.0 231.3L553.0 231.5L555.0 231.6L557.0 231.7L559.0 231.8L561.0 231.9L563.0 232.0L565.0 232.1L567.0 232.2L569.0 232.3L571.0 232.5L573.0 232.6L575.0 232.7L577.0 232.8L579.0 232.9L581.0 233.0L583.0 233.0L585.0 233.1L587.0 233.2L589.0 233.2L591.0 233.2L593.0 233.2L595.0 233.2L597.0 233.2L599.0 233.2L601.0 233.2L603.0 233.2L605.0 233.2L607.0 233.2L609.0 233.2L611.0 233.2L613.0 233.2L615.0 233.2L617.0 233.2L619.0 233.1L621.0 232.9L623.0 232.7L625.0 232.5L627.0 232.2L629.0 231.8L631.0 231.6L633.0 231.5L635.0 231.4L637.0 231.3L639.0 231.2L641.0 231.2L643.0 231.1L645.0 231.1L647.0 231.1L649.0 231.1L651.0 231.1L653.0 231.1L655.0 231.0L657.0 231.0L659.0 231.0L661.0 231.0L663.0 231.0L665.0 231.0L667.0 231.0L669.0 231.0L671.0 231.0L673.0 231.0L675.0 231.0L677.0 231.0L679.0 231.0L681.0 231.1L683.0 231.1L685.0 231.1L687.0 231.2L689.0 231.2L691.0 231.3L693.0 231.3L695.0 231.3L697.0 231.4L699.0 231.4L701.0 231.5L703.0 231.6L705.0 231.6L707.0 231.7L709.0 231.8L711.0 231.9L713.0 232.0L715.0 232.1L717.0 232.2L719.0 232.3L721.0 232.4L723.0 232.6L725.0 232.8L727.0 233.0L729.0 233.3L731.0 233.6L733.0 234.0L735.0 234.3L737.0 234.7L739.0 235.1L741.0 235.5L743.0 236.0L745.0 236.5L747.0 237.0L749.0 237.6L751.0 238.2L753.0 238.8L755.0 239.5L757.0 240.2L759.0 241.1L761.0 242.0L763.0 243.0L765.0 244.2L767.0 245.5L769.0 246.9L771.0 248.5L773.0 250.3L775.0 252.4L777.0 254.6L779.0 257.2L781.0 260.2L783.0 263.3L785.0 266.6L787.0 269.9L789.0 273.3L791.0 276.7L793.0 280.0L795.0 283.1L797.0 286.0L799.0 288.3L801.0 290.3L803.0 292.0L805.0 293.4L807.0 294.6L809.0 295.6L811.0 296.5L813.0 297.3L814.5 297.7" fill="none" stroke="#0000f4" stroke-width="4.2" stroke-linejoin="miter"/>
<path d="M104.0 381.2L106.0 381.1L108.0 381.0L110.0 381.0L112.0 380.9L114.0 380.8L116.0 380.7L118.0 380.6L120.0 380.5L122.0 380.5L124.0 380.4L126.0 380.2L128.0 380.1L130.0 380.0L132.0 379.8L134.0 379.7L136.0 379.5L138.0 379.3L140.0 379.2L142.0 379.0L144.0 378.8L146.0 378.6L148.0 378.4L150.0 378.2L152.0 378.0L154.0 377.8L156.0 377.6L158.0 377.3L160.0 377.1L162.0 376.9L164.0 376.6L166.0 376.4L168.0 376.1L170.0 375.9L172.0 375.6L174.0 375.3L176.0 375.1L178.0 374.9L180.0 374.6L182.0 374.3L184.0 374.1L186.0 373.8L188.0 373.6L190.0 373.3L192.0 373.1L194.0 372.8L196.0 372.5L198.0 372.3L200.0 372.0L202.0 371.8L204.0 371.5L206.0 371.3L208.0 371.1L210.0 370.8L212.0 370.6L214.0 370.4L216.0 370.1L218.0 369.9L220.0 369.7L222.0 369.4L224.0 369.2L226.0 368.9L228.0 368.7L230.0 368.4L232.0 368.1L234.0 367.9L236.0 367.6L238.0 367.3L240.0 367.1L242.0 366.8L244.0 366.5L246.0 366.3L248.0 366.0L250.0 365.8L252.0 365.5L254.0 365.3L256.0 365.0L258.0 364.8L260.0 364.5L262.0 364.3L264.0 364.0L266.0 363.8L268.0 363.6L270.0 363.3L272.0 363.1L274.0 362.9L276.0 362.6L278.0 362.4L280.0 362.2L282.0 361.9L284.0 361.7L286.0 361.5L288.0 361.2L290.0 361.0L292.0 360.8L294.0 360.5L296.0 360.3L298.0 360.1L300.0 359.8L302.0 359.6L304.0 359.4L306.0 359.1L308.0 358.9L310.0 358.7L312.0 358.4L314.0 358.2L316.0 358.0L318.0 357.7L320.0 357.5L322.0 357.2L324.0 357.0L326.0 356.8L328.0 356.5L330.0 356.3L332.0 356.0L334.0 355.8L336.0 355.5L338.0 355.3L340.0 355.0L342.0 354.8L344.0 354.5L346.0 354.3L348.0 354.0L350.0 353.8L352.0 353.5L354.0 353.3L356.0 353.0L358.0 352.7L360.0 352.4L362.0 352.1L364.0 351.8L366.0 351.5L368.0 351.2L370.0 350.9L372.0 350.6L374.0 350.3L376.0 350.0L378.0 349.7L380.0 349.4L382.0 349.1L384.0 348.8L386.0 348.5L388.0 348.2L390.0 347.9L392.0 347.6L394.0 347.3L396.0 347.0L398.0 346.7L400.0 346.4L402.0 346.1L404.0 345.8L406.0 345.5L408.0 345.2L410.0 345.0L412.0 344.7L414.0 344.4L416.0 344.1L418.0 343.9L420.0 343.6L422.0 343.3L424.0 343.1L426.0 342.8L428.0 342.6L430.0 342.3L432.0 342.1L434.0 341.8L436.0 341.6L438.0 341.3L440.0 341.1L442.0 340.8L444.0 340.6L446.0 340.4L448.0 340.1L450.0 339.9L452.0 339.7L454.0 339.4L456.0 339.2L458.0 338.9L460.0 338.7L462.0 338.5L464.0 338.2L466.0 338.0L468.0 337.7L470.0 337.5L472.0 337.2L474.0 337.0L476.0 336.8L478.0 336.5L480.0 336.3L482.0 336.1L484.0 335.8L486.0 335.6L488.0 335.4L490.0 335.2L492.0 335.0L494.0 334.8L496.0 334.6L498.0 334.4L500.0 334.2L502.0 334.0L504.0 333.8L506.0 333.6L508.0 333.4L510.0 333.2L512.0 333.0L514.0 332.8L516.0 332.6L518.0 332.4L520.0 332.2L522.0 332.0L524.0 331.8L526.0 331.6L528.0 331.4L530.0 331.2L532.0 331.0L534.0 330.8L536.0 330.6L538.0 330.4L540.0 330.2L542.0 330.0L544.0 329.8L546.0 329.7L548.0 329.5L550.0 329.3L552.0 329.1L554.0 329.0L556.0 328.8L558.0 328.7L560.0 328.5L562.0 328.4L564.0 328.2L566.0 328.1L568.0 328.0L570.0 327.9L572.0 327.8L574.0 327.7L576.0 327.6L578.0 327.5L580.0 327.4L582.0 327.3L584.0 327.2L586.0 327.1L588.0 327.0L590.0 327.0L592.0 326.9L594.0 326.8L596.0 326.7L598.0 326.6L600.0 326.5L602.0 326.4L604.0 326.3L606.0 326.3L608.0 326.2L610.0 326.1L612.0 326.0L614.0 326.0L616.0 325.9L618.0 325.9L620.0 325.8L622.0 325.7L624.0 325.7L626.0 325.6L628.0 325.6L630.0 325.5L632.0 325.5L634.0 325.5L636.0 325.4L638.0 325.4L640.0 325.4L642.0 325.4L644.0 325.4L646.0 325.4L648.0 325.4L650.0 325.4L652.0 325.4L654.0 325.4L656.0 325.4L658.0 325.4L660.0 325.4L662.0 325.4L664.0 325.4L666.0 325.4L668.0 325.4L670.0 325.4L672.0 325.4L674.0 325.5L676.0 325.5L678.0 325.5L680.0 325.5L682.0 325.5L684.0 325.5L686.0 325.5L688.0 325.5L690.0 325.5L692.0 325.5L694.0 325.5L696.0 325.5L698.0 325.6L700.0 325.6L702.0 325.6L704.0 325.6L706.0 325.6L708.0 325.6L710.0 325.6L712.0 325.6L714.0 325.6L716.0 325.7L718.0 325.7L720.0 325.7L722.0 325.7L724.0 325.7L726.0 325.7L728.0 325.7L730.0 325.7L732.0 325.8L734.0 325.8L736.0 325.8L738.0 325.8L740.0 325.9L742.0 325.9L744.0 325.9L746.0 325.9L748.0 326.0L750.0 326.0L752.0 326.0L754.0 326.1L756.0 326.1L758.0 326.2L760.0 326.2L762.0 326.2L764.0 326.3L766.0 326.3L768.0 326.4L770.0 326.4L772.0 326.5L774.0 326.6L776.0 326.7L778.0 326.8L780.0 327.0L782.0 327.4L784.0 327.9L786.0 328.4L788.0 328.9L790.0 329.6L792.0 330.4L794.0 331.2L796.0 332.0L798.0 332.9L800.0 333.8L802.0 334.6L804.0 335.5L806.0 336.3L808.0 337.0L810.0 337.8L812.0 338.6L814.0 339.3L814.5 339.5" fill="none" stroke="#00ffff" stroke-width="4.2" stroke-linejoin="miter" stroke-dasharray="6.1 5.3" stroke-dashoffset="6.6"/>
<path d="M103.0 316.6L105.0 316.6L107.0 316.6L109.0 316.6L111.0 316.6L113.0 316.6L115.0 316.6L117.0 316.6L119.0 316.6L121.0 316.6L123.0 316.6L125.0 316.6L127.0 316.6L129.0 316.6L131.0 316.6L133.0 316.6L135.0 316.6L137.0 316.6L139.0 316.6L141.0 316.6L143.0 316.6L145.0 316.6L147.0 316.6L149.0 316.6L151.0 316.6L153.0 316.6L155.0 316.6L157.0 316.6L159.0 316.6L161.0 316.6L163.0 316.6L165.0 316.6L167.0 316.6L169.0 316.6L171.0 316.6L173.0 316.6L175.0 316.7L177.0 316.7L179.0 316.7L181.0 316.7L183.0 316.7L185.0 316.7L187.0 316.7L189.0 316.7L191.0 316.7L193.0 316.7L195.0 316.7L197.0 316.7L199.0 316.7L201.0 316.7L203.0 316.7L205.0 316.7L207.0 316.7L209.0 316.7L211.0 316.7L213.0 316.7L215.0 316.7L217.0 316.7L219.0 316.7L221.0 316.7L223.0 316.7L225.0 316.7L227.0 316.7L229.0 316.7L231.0 316.7L233.0 316.7L235.0 316.7L237.0 316.8L239.0 316.8L241.0 316.8L243.0 316.8L245.0 316.8L247.0 316.8L249.0 316.8L251.0 316.8L253.0 316.8L255.0 316.8L257.0 316.8L259.0 316.8L261.0 316.8L263.0 316.8L265.0 316.8L267.0 316.8L269.0 316.8L271.0 316.8L273.0 316.8L275.0 316.8L277.0 316.8L279.0 316.8L281.0 316.8L283.0 316.8L285.0 316.9L287.0 316.9L289.0 316.9L291.0 316.9L293.0 316.9L295.0 316.9L297.0 316.9L299.0 316.9L301.0 316.9L303.0 316.9L305.0 316.9L307.0 316.9L309.0 316.9L311.0 316.9L313.0 316.9L315.0 316.9L317.0 316.9L319.0 316.9L321.0 316.9L323.0 316.9L325.0 316.9L327.0 317.0L329.0 317.0L331.0 317.0L333.0 317.0L335.0 317.0L337.0 317.0L339.0 317.0L341.0 317.0L343.0 317.0L345.0 317.0L347.0 317.0L349.0 317.0L351.0 317.0L353.0 317.0L355.0 317.1L357.0 317.1L359.0 317.1L361.0 317.1L363.0 317.1L365.0 317.1L367.0 317.1L369.0 317.1L371.0 317.1L373.0 317.1L375.0 317.1L377.0 317.2L379.0 317.2L381.0 317.2L383.0 317.2L385.0 317.2L387.0 317.2L389.0 317.2L391.0 317.2L393.0 317.2L395.0 317.2L397.0 317.2L399.0 317.3L401.0 317.3L403.0 317.3L405.0 317.3L407.0 317.3L409.0 317.3L411.0 317.3L413.0 317.3L415.0 317.3L417.0 317.4L419.0 317.4L421.0 317.4L423.0 317.4L425.0 317.4L427.0 317.4L429.0 317.4L431.0 317.4L433.0 317.4L435.0 317.4L437.0 317.5L439.0 317.5L441.0 317.5L443.0 317.5L445.0 317.5L447.0 317.5L449.0 317.5L451.0 317.5L453.0 317.5L455.0 317.5L457.0 317.6L459.0 317.6L461.0 317.6L463.0 317.6L465.0 317.6L467.0 317.6L469.0 317.6L471.0 317.6L473.0 317.6L475.0 317.6L477.0 317.7L479.0 317.7L481.0 317.7L483.0 317.7L485.0 317.7L487.0 317.7L489.0 317.7L491.0 317.7L493.0 317.7L495.0 317.7L497.0 317.7L499.0 317.7L501.0 317.7L503.0 317.8L505.0 317.8L507.0 317.8L509.0 317.8L511.0 317.8L513.0 317.8L515.0 317.8L517.0 317.8L519.0 317.8L521.0 317.8L523.0 317.8L525.0 317.8L527.0 317.8L529.0 317.8L531.0 317.8L533.0 317.8L535.0 317.9L537.0 317.9L539.0 317.9L541.0 317.9L543.0 317.9L545.0 317.9L547.0 317.9L549.0 317.9L551.0 317.9L553.0 317.9L555.0 317.9L557.0 317.9L559.0 317.9L561.0 317.9L563.0 317.9L565.0 317.9L567.0 317.9L569.0 317.9L571.0 317.9L573.0 317.9L575.0 317.9L577.0 317.9L579.0 317.9L581.0 317.9L583.0 317.9L585.0 317.9L587.0 317.9L589.0 318.0L591.0 318.0L593.0 318.0L595.0 318.0L597.0 318.0L599.0 318.0L601.0 318.0L603.0 318.0L605.0 318.0L607.0 318.0L609.0 318.0L611.0 318.0L613.0 318.0L615.0 318.0L617.0 318.0L619.0 318.0L621.0 318.0L623.0 318.0L625.0 318.0L627.0 318.0L629.0 318.0L631.0 318.0L633.0 318.0L635.0 318.0L637.0 318.0L639.0 318.0L641.0 318.0L643.0 318.0L645.0 318.0L647.0 318.0L649.0 318.0L651.0 318.1L653.0 318.1L655.0 318.1L657.0 318.1L659.0 318.1L661.0 318.1L663.0 318.1L665.0 318.1L667.0 318.1L669.0 318.1L671.0 318.1L673.0 318.1L675.0 318.1L677.0 318.1L679.0 318.1L681.0 318.1L683.0 318.1L685.0 318.1L687.0 318.1L689.0 318.2L691.0 318.2L693.0 318.2L695.0 318.2L697.0 318.2L699.0 318.2L701.0 318.2L703.0 318.2L705.0 318.2L707.0 318.2L709.0 318.2L711.0 318.2L713.0 318.2L715.0 318.3L717.0 318.3L719.0 318.3L721.0 318.3L723.0 318.3L725.0 318.3L727.0 318.3L729.0 318.3L731.0 318.4L733.0 318.4L735.0 318.4L737.0 318.4L739.0 318.5L741.0 318.5L743.0 318.5L745.0 318.6L747.0 318.6L749.0 318.6L751.0 318.7L753.0 318.7L755.0 318.8L757.0 318.8L759.0 318.9L761.0 318.9L763.0 319.0L765.0 319.0L767.0 319.1L769.0 319.1L771.0 319.2L773.0 319.3L775.0 319.4L777.0 319.5L779.0 319.7L781.0 320.0L783.0 320.4L785.0 320.9L787.0 321.4L789.0 322.1L791.0 323.1L793.0 324.2L795.0 325.4L797.0 326.7L799.0 328.2L801.0 329.8L803.0 331.4L805.0 332.7L807.0 334.0L809.0 335.3L811.0 336.4L813.0 337.6L814.8 338.5" fill="none" stroke="#00ffff" stroke-width="4.2" stroke-linejoin="miter"/>
<path d="M104.0 404.2L106.0 404.2L108.0 404.1L110.0 404.1L112.0 404.0L114.0 404.0L116.0 403.9L118.0 403.8L120.0 403.8L122.0 403.7L124.0 403.6L126.0 403.6L128.0 403.5L130.0 403.5L132.0 403.4L134.0 403.3L136.0 403.3L138.0 403.2L140.0 403.2L142.0 403.1L144.0 403.0L146.0 403.0L148.0 402.9L150.0 402.8L152.0 402.7L154.0 402.6L156.0 402.5L158.0 402.4L160.0 402.2L162.0 402.1L164.0 401.9L166.0 401.8L168.0 401.6L170.0 401.5L172.0 401.3L174.0 401.2L176.0 401.0L178.0 400.9L180.0 400.8L182.0 400.6L184.0 400.5L186.0 400.3L188.0 400.2L190.0 400.0L192.0 399.9L194.0 399.7L196.0 399.6L198.0 399.5L200.0 399.3L202.0 399.2L204.0 399.1L206.0 398.9L208.0 398.8L210.0 398.7L212.0 398.6L214.0 398.4L216.0 398.3L218.0 398.2L220.0 398.1L222.0 398.0L224.0 397.9L226.0 397.8L228.0 397.7L230.0 397.5L232.0 397.4L234.0 397.3L236.0 397.2L238.0 397.1L240.0 397.0L242.0 396.9L244.0 396.8L246.0 396.7L248.0 396.6L250.0 396.5L252.0 396.4L254.0 396.3L256.0 396.2L258.0 396.1L260.0 396.0L262.0 395.9L264.0 395.8L266.0 395.8L268.0 395.7L270.0 395.6L272.0 395.5L274.0 395.4L276.0 395.3L278.0 395.2L280.0 395.1L282.0 395.0L284.0 394.9L286.0 394.8L288.0 394.7L290.0 394.6L292.0 394.5L294.0 394.4L296.0 394.3L298.0 394.2L300.0 394.1L302.0 394.0L304.0 393.9L306.0 393.7L308.0 393.6L310.0 393.4L312.0 393.3L314.0 393.1L316.0 392.9L318.0 392.6L320.0 392.4L322.0 392.2L324.0 392.0L326.0 391.7L328.0 391.5L330.0 391.3L332.0 391.1L334.0 390.9L336.0 390.7L338.0 390.6L340.0 390.4L342.0 390.2L344.0 390.1L346.0 389.9L348.0 389.8L350.0 389.6L352.0 389.5L354.0 389.3L356.0 389.2L358.0 389.0L360.0 388.9L362.0 388.7L364.0 388.6L366.0 388.4L368.0 388.3L370.0 388.2L372.0 388.1L374.0 387.9L376.0 387.8L378.0 387.7L380.0 387.5L382.0 387.4L384.0 387.2L386.0 387.1L388.0 387.0L390.0 386.8L392.0 386.7L394.0 386.5L396.0 386.4L398.0 386.2L400.0 386.1L402.0 385.9L404.0 385.8L406.0 385.7L408.0 385.5L410.0 385.4L412.0 385.2L414.0 385.1L416.0 385.0L418.0 384.8L420.0 384.7L422.0 384.5L424.0 384.4L426.0 384.3L428.0 384.1L430.0 384.0L432.0 383.9L434.0 383.8L436.0 383.6L438.0 383.5L440.0 383.4L442.0 383.2L444.0 383.1L446.0 383.0L448.0 382.9L450.0 382.8L452.0 382.6L454.0 382.5L456.0 382.4L458.0 382.3L460.0 382.2L462.0 382.1L464.0 382.0L466.0 382.0L468.0 381.9L470.0 381.8L472.0 381.7L474.0 381.7L476.0 381.6L478.0 381.5L480.0 381.4L482.0 381.4L484.0 381.3L486.0 381.2L488.0 381.1L490.0 381.0L492.0 381.0L494.0 380.9L496.0 380.8L498.0 380.7L500.0 380.7L502.0 380.6L504.0 380.5L506.0 380.4L508.0 380.3L510.0 380.3L512.0 380.2L514.0 380.1L516.0 380.0L518.0 379.9L520.0 379.8L522.0 379.7L524.0 379.6L526.0 379.5L528.0 379.4L530.0 379.3L532.0 379.2L534.0 379.0L536.0 378.9L538.0 378.8L540.0 378.7L542.0 378.7L544.0 378.6L546.0 378.5L548.0 378.4L550.0 378.3L552.0 378.2L554.0 378.2L556.0 378.1L558.0 378.0L560.0 377.9L562.0 377.9L564.0 377.8L566.0 377.7L568.0 377.6L570.0 377.5L572.0 377.5L574.0 377.4L576.0 377.3L578.0 377.2L580.0 377.1L582.0 377.0L584.0 376.9L586.0 376.9L588.0 376.8L590.0 376.7L592.0 376.7L594.0 376.6L596.0 376.6L598.0 376.5L600.0 376.5L602.0 376.4L604.0 376.4L606.0 376.4L608.0 376.3L610.0 376.3L612.0 376.3L614.0 376.2L616.0 376.2L618.0 376.2L620.0 376.2L622.0 376.1L624.0 376.1L626.0 376.1L628.0 376.1L630.0 376.1L632.0 376.0L634.0 376.0L636.0 376.0L638.0 376.0L640.0 376.0L642.0 376.0L644.0 376.0L646.0 376.0L648.0 376.0L650.0 376.0L652.0 376.0L654.0 376.0L656.0 376.0L658.0 376.0L660.0 376.0L662.0 376.0L664.0 376.0L666.0 375.9L668.0 375.9L670.0 375.9L672.0 375.9L674.0 375.9L676.0 375.9L678.0 375.9L680.0 375.9L682.0 375.9L684.0 375.9L686.0 375.9L688.0 375.9L690.0 375.9L692.0 375.9L694.0 375.9L696.0 375.9L698.0 375.9L700.0 375.9L702.0 375.9L704.0 375.9L706.0 375.9L708.0 375.9L710.0 375.9L712.0 375.9L714.0 375.9L716.0 375.9L718.0 375.9L720.0 375.9L722.0 375.9L724.0 375.9L726.0 375.9L728.0 375.9L730.0 375.9L732.0 375.9L734.0 375.9L736.0 375.9L738.0 375.9L740.0 375.9L742.0 375.9L744.0 375.9L746.0 375.9L748.0 375.9L750.0 375.9L752.0 375.9L754.0 375.9L756.0 375.9L758.0 375.9L760.0 375.9L762.0 375.9L764.0 375.9L766.0 375.9L768.0 375.9L770.0 375.9L772.0 375.9L774.0 375.9L776.0 375.9L778.0 375.9L780.0 375.9L782.0 375.9L784.0 375.9L786.0 375.9L788.0 375.9L790.0 375.9L792.0 375.9L794.0 375.9L796.0 375.9L798.0 375.9L800.0 375.9L802.0 375.9L804.0 375.8L806.0 375.7L808.0 375.5L810.0 375.2L812.0 375.0L813.8 374.8" fill="none" stroke="#ff00ff" stroke-width="4.2" stroke-linejoin="miter" stroke-dasharray="6.1 5.3" stroke-dashoffset="6.6"/>
<path d="M103.0 396.8L105.0 396.8L107.0 396.8L109.0 396.8L111.0 396.8L113.0 396.8L115.0 396.8L117.0 396.8L119.0 396.8L121.0 396.8L123.0 396.8L125.0 396.8L127.0 396.8L129.0 396.8L131.0 396.8L133.0 396.8L135.0 396.8L137.0 396.8L139.0 396.8L141.0 396.8L143.0 396.8L145.0 396.8L147.0 396.8L149.0 396.8L151.0 396.8L153.0 396.8L155.0 396.8L157.0 396.8L159.0 396.8L161.0 396.8L163.0 396.8L165.0 396.8L167.0 396.8L169.0 396.8L171.0 396.8L173.0 396.8L175.0 396.8L177.0 396.8L179.0 396.8L181.0 396.8L183.0 396.8L185.0 396.8L187.0 396.8L189.0 396.8L191.0 396.8L193.0 396.8L195.0 396.8L197.0 396.8L199.0 396.8L201.0 396.9L203.0 396.9L205.0 396.9L207.0 396.9L209.0 396.9L211.0 396.9L213.0 396.9L215.0 396.9L217.0 396.9L219.0 396.9L221.0 396.9L223.0 396.9L225.0 396.9L227.0 396.9L229.0 396.9L231.0 396.9L233.0 396.9L235.0 396.9L237.0 396.9L239.0 396.9L241.0 396.9L243.0 396.9L245.0 396.9L247.0 396.9L249.0 396.9L251.0 396.9L253.0 396.9L255.0 396.9L257.0 396.9L259.0 396.9L261.0 396.9L263.0 396.9L265.0 396.9L267.0 396.9L269.0 396.9L271.0 396.9L273.0 396.9L275.0 396.9L277.0 396.9L279.0 397.0L281.0 397.0L283.0 397.0L285.0 397.0L287.0 397.0L289.0 397.0L291.0 397.0L293.0 397.0L295.0 397.0L297.0 397.0L299.0 397.0L301.0 397.0L303.0 397.0L305.0 397.0L307.0 397.0L309.0 397.0L311.0 397.0L313.0 397.0L315.0 397.0L317.0 397.0L319.0 397.0L321.0 397.0L323.0 397.0L325.0 397.0L327.0 397.1L329.0 397.1L331.0 397.1L333.0 397.1L335.0 397.1L337.0 397.1L339.0 397.1L341.0 397.1L343.0 397.1L345.0 397.1L347.0 397.1L349.0 397.2L351.0 397.2L353.0 397.2L355.0 397.2L357.0 397.2L359.0 397.2L361.0 397.2L363.0 397.2L365.0 397.3L367.0 397.3L369.0 397.3L371.0 397.3L373.0 397.3L375.0 397.3L377.0 397.4L379.0 397.4L381.0 397.4L383.0 397.4L385.0 397.4L387.0 397.4L389.0 397.4L391.0 397.5L393.0 397.5L395.0 397.5L397.0 397.5L399.0 397.5L401.0 397.5L403.0 397.6L405.0 397.6L407.0 397.6L409.0 397.6L411.0 397.6L413.0 397.7L415.0 397.7L417.0 397.7L419.0 397.7L421.0 397.7L423.0 397.7L425.0 397.8L427.0 397.8L429.0 397.8L431.0 397.8L433.0 397.8L435.0 397.9L437.0 397.9L439.0 397.9L441.0 397.9L443.0 397.9L445.0 397.9L447.0 398.0L449.0 398.0L451.0 398.0L453.0 398.0L455.0 398.0L457.0 398.1L459.0 398.1L461.0 398.1L463.0 398.1L465.0 398.1L467.0 398.1L469.0 398.2L471.0 398.2L473.0 398.2L475.0 398.2L477.0 398.2L479.0 398.2L481.0 398.3L483.0 398.3L485.0 398.3L487.0 398.3L489.0 398.3L491.0 398.3L493.0 398.3L495.0 398.4L497.0 398.4L499.0 398.4L501.0 398.4L503.0 398.4L505.0 398.4L507.0 398.4L509.0 398.5L511.0 398.5L513.0 398.5L515.0 398.5L517.0 398.5L519.0 398.5L521.0 398.5L523.0 398.5L525.0 398.6L527.0 398.6L529.0 398.6L531.0 398.6L533.0 398.6L535.0 398.6L537.0 398.6L539.0 398.6L541.0 398.6L543.0 398.6L545.0 398.7L547.0 398.7L549.0 398.7L551.0 398.7L553.0 398.7L555.0 398.7L557.0 398.7L559.0 398.7L561.0 398.7L563.0 398.7L565.0 398.8L567.0 398.8L569.0 398.8L571.0 398.8L573.0 398.8L575.0 398.8L577.0 398.8L579.0 398.8L581.0 398.8L583.0 398.8L585.0 398.8L587.0 398.8L589.0 398.9L591.0 398.9L593.0 398.9L595.0 398.9L597.0 398.9L599.0 398.9L601.0 398.9L603.0 398.9L605.0 398.9L607.0 398.9L609.0 398.9L611.0 399.0L613.0 399.0L615.0 399.0L617.0 399.0L619.0 399.0L621.0 399.0L623.0 399.0L625.0 399.0L627.0 399.0L629.0 399.0L631.0 399.0L633.0 399.0L635.0 399.1L637.0 399.1L639.0 399.1L641.0 399.1L643.0 399.1L645.0 399.1L647.0 399.1L649.0 399.1L651.0 399.1L653.0 399.1L655.0 399.1L657.0 399.2L659.0 399.2L661.0 399.2L663.0 399.2L665.0 399.2L667.0 399.2L669.0 399.2L671.0 399.2L673.0 399.2L675.0 399.2L677.0 399.2L679.0 399.3L681.0 399.3L683.0 399.3L685.0 399.3L687.0 399.3L689.0 399.3L691.0 399.3L693.0 399.3L695.0 399.3L697.0 399.3L699.0 399.4L701.0 399.4L703.0 399.4L705.0 399.4L707.0 399.4L709.0 399.4L711.0 399.4L713.0 399.4L715.0 399.4L717.0 399.5L719.0 399.5L721.0 399.5L723.0 399.5L725.0 399.5L727.0 399.5L729.0 399.5L731.0 399.6L733.0 399.6L735.0 399.6L737.0 399.6L739.0 399.6L741.0 399.6L743.0 399.7L745.0 399.7L747.0 399.7L749.0 399.7L751.0 399.7L753.0 399.8L755.0 399.8L757.0 399.8L759.0 399.8L761.0 399.8L763.0 399.9L765.0 399.9L767.0 399.9L769.0 399.9L771.0 399.9L773.0 399.9L775.0 400.0L777.0 400.0L779.0 400.0L781.0 400.0L783.0 400.0L785.0 400.0L787.0 400.0L789.0 400.0L791.0 399.9L793.0 399.4L795.0 398.8L797.0 398.1L799.0 397.3L801.0 396.1L803.0 394.7L805.0 393.3L807.0 391.7L809.0 390.3L811.0 389.0L813.0 387.9L814.8 387.1" fill="none" stroke="#ff00ff" stroke-width="4.2" stroke-linejoin="miter"/></g>
<text x="163.7" y="470" font-family="Liberation Sans, sans-serif" font-size="25" font-style="italic" fill="#000" textLength="26.2" lengthAdjust="spacingAndGlyphs">10</text><text x="193.5" y="460" font-family="Liberation Sans, sans-serif" font-size="17" font-style="italic" fill="#000" textLength="18" lengthAdjust="spacingAndGlyphs">12</text>
<text x="368.9" y="470" font-family="Liberation Sans, sans-serif" font-size="25" font-style="italic" fill="#000" textLength="26.2" lengthAdjust="spacingAndGlyphs">10</text><text x="398.7" y="460" font-family="Liberation Sans, sans-serif" font-size="17" font-style="italic" fill="#000" textLength="18" lengthAdjust="spacingAndGlyphs">13</text>
<text x="574.0" y="470" font-family="Liberation Sans, sans-serif" font-size="25" font-style="italic" fill="#000" textLength="26.2" lengthAdjust="spacingAndGlyphs">10</text><text x="603.8" y="460" font-family="Liberation Sans, sans-serif" font-size="17" font-style="italic" fill="#000" textLength="18" lengthAdjust="spacingAndGlyphs">14</text>
<text x="779.2" y="470" font-family="Liberation Sans, sans-serif" font-size="25" font-style="italic" fill="#000" textLength="26.2" lengthAdjust="spacingAndGlyphs">10</text><text x="809.0" y="460" font-family="Liberation Sans, sans-serif" font-size="17" font-style="italic" fill="#000" textLength="18" lengthAdjust="spacingAndGlyphs">15</text>
<text x="58.6" y="179" font-family="Liberation Sans, sans-serif" font-size="25" font-style="italic" fill="#000" textLength="26.2" lengthAdjust="spacingAndGlyphs">10</text><text x="86.1" y="168.4" font-family="Liberation Sans, sans-serif" font-size="17.5" font-style="italic" fill="#000">9</text>
<path d="M377.7 532.7L384.7 516.8C387 511.2 391 508.4 395.3 508.4C399.8 508.4 401.3 511.8 400.2 515.6C398.6 520.8 393.8 524.4 389.3 524.4C386.3 524.4 384.3 522.8 383.7 520.2" fill="none" stroke="#000" stroke-width="2.7"/>
<text x="410.3" y="525.5" font-family="Liberation Sans, sans-serif" font-size="33.5" fill="#000">[</text>
<text x="421.5" y="526.5" font-family="Liberation Sans, sans-serif" font-style="italic" font-size="31" fill="#000" textLength="20" lengthAdjust="spacingAndGlyphs">g</text>
<text x="451" y="526.5" font-family="Liberation Sans, sans-serif" font-style="italic" font-size="31" fill="#000" textLength="44" lengthAdjust="spacingAndGlyphs">cm</text>
<text x="498" y="511.5" font-family="Liberation Sans, sans-serif" font-style="italic" font-size="25" fill="#000" textLength="29" lengthAdjust="spacingAndGlyphs">−3</text>
<text x="528.3" y="525.5" font-family="Liberation Sans, sans-serif" font-size="33.5" fill="#000">]</text>
<g transform="translate(28,272) rotate(-90)" font-family="Liberation Sans, sans-serif" font-size="35" fill="#000"><text x="0" y="0" font-style="italic">T</text><text x="28.3" y="-12.5" font-size="31" font-style="italic">∞</text><text x="59.6" y="0" font-size="34">[</text><text x="70" y="0" font-size="34" font-style="italic">K</text><text x="94" y="0" font-size="34">]</text></g>
<text x="512" y="42.5" font-family="Liberation Sans, sans-serif" font-size="25.5" fill="#000" transform="translate(0,42.5) scale(1,1.05) translate(0,-42.5)">Crust</text>
<path d="M614.4 35.3H596.4M602.6 29.3L596.3 35.3L602.6 41.3" fill="none" stroke="#000" stroke-width="1.9"/>
<path d="M657.9 35.3H676.2M670.1 29.3L676.4 35.3L670.1 41.3" fill="none" stroke="#000" stroke-width="1.9"/>
<text x="698.8" y="42.5" font-family="Liberation Sans, sans-serif" font-size="25.5" fill="#000" transform="translate(0,42.5) scale(1,1.05) translate(0,-42.5)">Core</text>
<text x="703.3" y="114.8" font-family="Liberation Sans, sans-serif" font-size="17.5" fill="#ff0000" textLength="62" lengthAdjust="spacingAndGlyphs">t=0.1 yr</text>
<text x="727.0" y="167.2" font-family="Liberation Sans, sans-serif" font-size="17.5" fill="#00ff00" textLength="29.5" lengthAdjust="spacingAndGlyphs">1 yr</text>
<text x="721.8" y="224.6" font-family="Liberation Sans, sans-serif" font-size="17.5" fill="#0000f4" textLength="40" lengthAdjust="spacingAndGlyphs">10 yr</text>
<text x="716.5" y="308.9" font-family="Liberation Sans, sans-serif" font-size="17.5" fill="#00ffff" textLength="50.5" lengthAdjust="spacingAndGlyphs">100 yr</text>
<text x="716" y="368.4" font-family="Liberation Sans, sans-serif" font-size="17.5" fill="#ff00ff" textLength="51" lengthAdjust="spacingAndGlyphs">300 yr</text>
</svg>
</body></html>
